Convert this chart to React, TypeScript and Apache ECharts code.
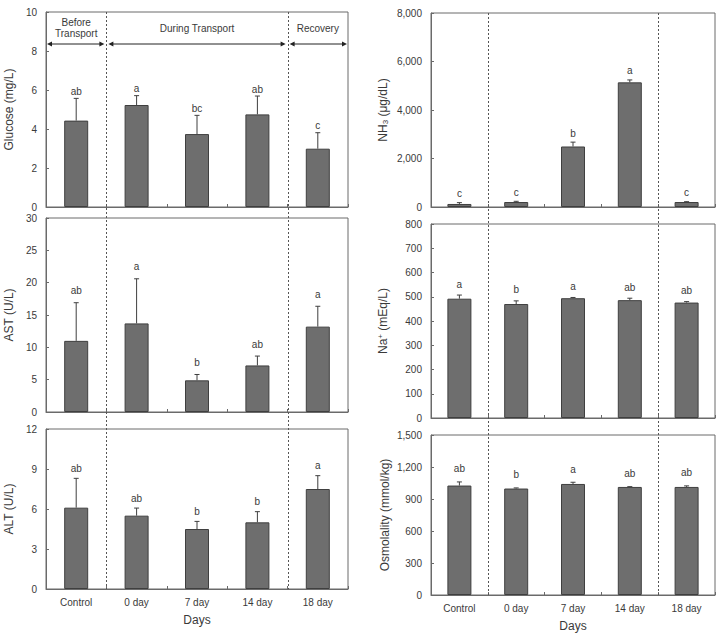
import React, { useEffect, useRef } from "react";
import * as echarts from "echarts";

// Sampling days
const categories = ["Control", "0 day", "7 day", "14 day", "18 day"];

// Means, standard deviations and significance letters per parameter
const glucoseMean = [4.43, 5.23, 3.74, 4.75, 2.99];
const glucoseSD = [1.14, 0.48, 0.96, 0.94, 0.82];
const glucoseLetters = ["ab", "a", "bc", "ab", "c"];

const astMean = [11.0, 13.7, 4.9, 7.2, 13.2];
const astSD = [5.9, 6.9, 0.9, 1.45, 3.15];
const astLetters = ["ab", "a", "b", "ab", "a"];

const altMean = [6.1, 5.5, 4.5, 5.0, 7.5];
const altSD = [2.2, 0.57, 0.57, 0.8, 1.0];
const altLetters = ["ab", "ab", "b", "b", "a"];

const nh3Mean = [125, 205, 2495, 5140, 205];
const nh3SD = [55, 30, 180, 100, 15];
const nh3Letters = ["c", "c", "b", "a", "c"];

const naMean = [492, 470, 494, 486, 476];
const naSD = [15, 13, 3, 8, 4];
const naLetters = ["a", "b", "a", "ab", "ab"];

const osmMean = [1026, 998, 1041, 1013, 1013];
const osmSD = [34, 6, 16, 3, 10];
const osmLetters = ["ab", "b", "a", "ab", "ab"];

// Period annotations over the first panel
const periods = ["Before\nTransport", "During Transport", "Recovery"];
const periodSpans = [[0, 1], [1, 4], [4, 5]];

const FONT = "'Liberation Sans', Arial, Helvetica, sans-serif";
const AXIS_COLOR = "#6a6a6a";
const TEXT_COLOR = "#3a3a3a";
const BAR_FILL = "#6e6e6e";
const BAR_EDGE = "#3f3f3f";

type Panel = {
  grid: { left: number; top: number; width: number; height: number };
  mean: number[];
  sd: number[];
  letters: string[];
  max: number;
  interval: number;
  name: string;
  nameGap: number;
  comma?: boolean;
  bottom?: boolean;
  letterGap: number;
};

const L = { left: 46, width: 302 };
const R = { left: 431, width: 284 };

const panels: Panel[] = [
  { grid: { ...L, top: 12, height: 195 }, mean: glucoseMean, sd: glucoseSD, letters: glucoseLetters, max: 10, interval: 2, name: "Glucose (mg/L)", nameGap: 31, letterGap: 7 },
  { grid: { ...L, top: 218, height: 194 }, mean: astMean, sd: astSD, letters: astLetters, max: 30, interval: 5, name: "AST (U/L)", nameGap: 31, letterGap: 12 },
  { grid: { ...L, top: 429, height: 160 }, mean: altMean, sd: altSD, letters: altLetters, max: 12, interval: 3, name: "ALT (U/L)", nameGap: 31, bottom: true, letterGap: 10 },
  { grid: { ...R, top: 13, height: 194 }, mean: nh3Mean, sd: nh3SD, letters: nh3Letters, max: 8000, interval: 2000, name: "{n|NH}{s|3}{n| (μg/dL)}", nameGap: 40, comma: true, letterGap: 9 },
  { grid: { ...R, top: 224, height: 194 }, mean: naMean, sd: naSD, letters: naLetters, max: 800, interval: 100, name: "{n|Na}{p|+}{n| (mEq/L)}", nameGap: 40, letterGap: 11 },
  { grid: { ...R, top: 435, height: 160 }, mean: osmMean, sd: osmSD, letters: osmLetters, max: 1500, interval: 300, name: "Osmolality (mmol/kg)", nameGap: 40, comma: true, bottom: true, letterGap: 13 },
];

function buildOption() {
  const grids = panels.map((p) => ({
    ...p.grid,
    show: true,
    borderColor: AXIS_COLOR,
    borderWidth: 1,
    backgroundColor: "transparent",
    containLabel: false,
  }));

  const xAxes = panels.map((p, i) => ({
    type: "category",
    gridIndex: i,
    data: categories,
    boundaryGap: true,
    axisLine: { show: true, lineStyle: { color: AXIS_COLOR, width: 1 } },
    axisTick: { show: true, inside: true, length: 3, lineStyle: { color: AXIS_COLOR } },
    axisLabel: {
      show: !!p.bottom,
      color: TEXT_COLOR,
      fontSize: 10,
      fontFamily: FONT,
      margin: 8,
    },
    name: p.bottom ? "Days" : "",
    nameLocation: "middle",
    nameGap: 25,
    nameTextStyle: { color: TEXT_COLOR, fontSize: 12, fontFamily: FONT },
    splitLine: { show: false },
  }));

  const yAxes = panels.map((p, i) => ({
    type: "value",
    gridIndex: i,
    min: 0,
    max: p.max,
    interval: p.interval,
    axisLine: { show: true, lineStyle: { color: AXIS_COLOR, width: 1 } },
    axisTick: { show: true, inside: true, length: 3, lineStyle: { color: AXIS_COLOR } },
    axisLabel: {
      color: TEXT_COLOR,
      fontSize: 10,
      fontFamily: FONT,
      margin: 9,
      formatter: (v: number) => (p.comma ? v.toLocaleString("en-US") : String(v)),
    },
    splitLine: { show: false },
    name: p.name,
    nameLocation: "middle",
    nameGap: p.nameGap,
    nameRotate: 90,
    nameTextStyle: {
      color: TEXT_COLOR,
      fontSize: 12,
      fontFamily: FONT,
      rich: {
        n: { fontSize: 12, fontFamily: FONT, color: TEXT_COLOR, lineHeight: 16 },
        s: { fontSize: 8, fontFamily: FONT, color: TEXT_COLOR, lineHeight: 16, padding: [0, 0, -5, 0] },
        p: { fontSize: 8, fontFamily: FONT, color: TEXT_COLOR, lineHeight: 16, padding: [-6, 0, 0, 0] },
      },
    },
  }));

  const series: any[] = [];
  panels.forEach((p, i) => {
    series.push({
      type: "bar",
      xAxisIndex: i,
      yAxisIndex: i,
      data: p.mean,
      barWidth: 24,
      itemStyle: { color: BAR_FILL, borderColor: BAR_EDGE, borderWidth: 1 },
      silent: true,
    });
    series.push({
      type: "custom",
      xAxisIndex: i,
      yAxisIndex: i,
      z: 5,
      silent: true,
      data: p.mean.map((m, k) => [k, m, p.sd[k], p.letters[k]]),
      renderItem: (params: any, api: any) => {
        const k = api.value(0);
        const m = api.value(1);
        const s = api.value(2);
        const base = api.coord([k, m]);
        const top = api.coord([k, m + s]);
        const letter = p.letters[params.dataIndex];
        return {
          type: "group",
          children: [
            {
              type: "line",
              shape: { x1: base[0], y1: base[1], x2: top[0], y2: top[1] },
              style: { stroke: BAR_EDGE, lineWidth: 1 },
            },
            {
              type: "line",
              shape: { x1: top[0] - 2.5, y1: top[1], x2: top[0] + 2.5, y2: top[1] },
              style: { stroke: BAR_EDGE, lineWidth: 1 },
            },
            {
              type: "text",
              x: top[0],
              y: top[1] - p.letterGap,
              style: {
                text: letter,
                fill: TEXT_COLOR,
                fontSize: 10,
                fontFamily: FONT,
                align: "center",
                verticalAlign: "middle",
              },
            },
          ],
        };
      },
    });
  });

  // Dashed period separators and the transport-period arrows
  const graphics: any[] = [];
  const columns = [
    { g: panels[0].grid, bottom: panels[2].grid.top + panels[2].grid.height },
    { g: panels[3].grid, bottom: panels[5].grid.top + panels[5].grid.height },
  ];
  columns.forEach(({ g, bottom }) => {
    const band = g.width / categories.length;
    [1, 4].forEach((b) => {
      const x = Math.round(g.left + band * b) + 0.5;
      graphics.push({
        type: "line",
        silent: true,
        z: 10,
        shape: { x1: x, y1: g.top, x2: x, y2: bottom },
        style: { stroke: "#555", lineWidth: 1, lineDash: [2, 2] },
      });
    });
  });

  const g0 = panels[0].grid;
  const band0 = g0.width / categories.length;
  const arrowY = g0.top + 32;
  periods.forEach((label, idx) => {
    const [a, b] = periodSpans[idx];
    const x1 = g0.left + band0 * a + (a === 0 ? 1 : 2);
    const x2 = g0.left + band0 * b - (b === categories.length ? 1 : 2);
    const cx = (g0.left + band0 * a + g0.left + band0 * b) / 2;
    graphics.push({
      type: "line",
      silent: true,
      shape: { x1: x1 + 3, y1: arrowY, x2: x2 - 3, y2: arrowY },
      style: { stroke: "#222", lineWidth: 1 },
    });
    graphics.push({
      type: "polygon",
      silent: true,
      shape: { points: [[x1, arrowY], [x1 + 5, arrowY - 2.5], [x1 + 5, arrowY + 2.5]] },
      style: { fill: "#222" },
    });
    graphics.push({
      type: "polygon",
      silent: true,
      shape: { points: [[x2, arrowY], [x2 - 5, arrowY - 2.5], [x2 - 5, arrowY + 2.5]] },
      style: { fill: "#222" },
    });
    graphics.push({
      type: "text",
      silent: true,
      x: cx,
      y: g0.top + 16,
      style: {
        text: label,
        fill: TEXT_COLOR,
        fontSize: 10,
        fontFamily: FONT,
        align: "center",
        verticalAlign: "middle",
        lineHeight: 11,
      },
    });
  });

  return {
    animation: false,
    backgroundColor: "#ffffff",
    textStyle: { fontFamily: FONT },
    grid: grids,
    xAxis: xAxes,
    yAxis: yAxes,
    series,
    graphic: graphics,
  };
}

export default function App() {
  const ref = useRef<HTMLDivElement>(null);

  useEffect(() => {
    document.body.style.margin = "0";
    if (!ref.current) return;
    const chart = echarts.init(ref.current, null, { renderer: "svg" });
    chart.setOption(buildOption() as any);
    return () => chart.dispose();
  }, []);

  return (
    <div
      ref={ref}
      style={{ position: "absolute", left: 0, top: 0, width: 723, height: 642, background: "#fff" }}
    />
  );
}
